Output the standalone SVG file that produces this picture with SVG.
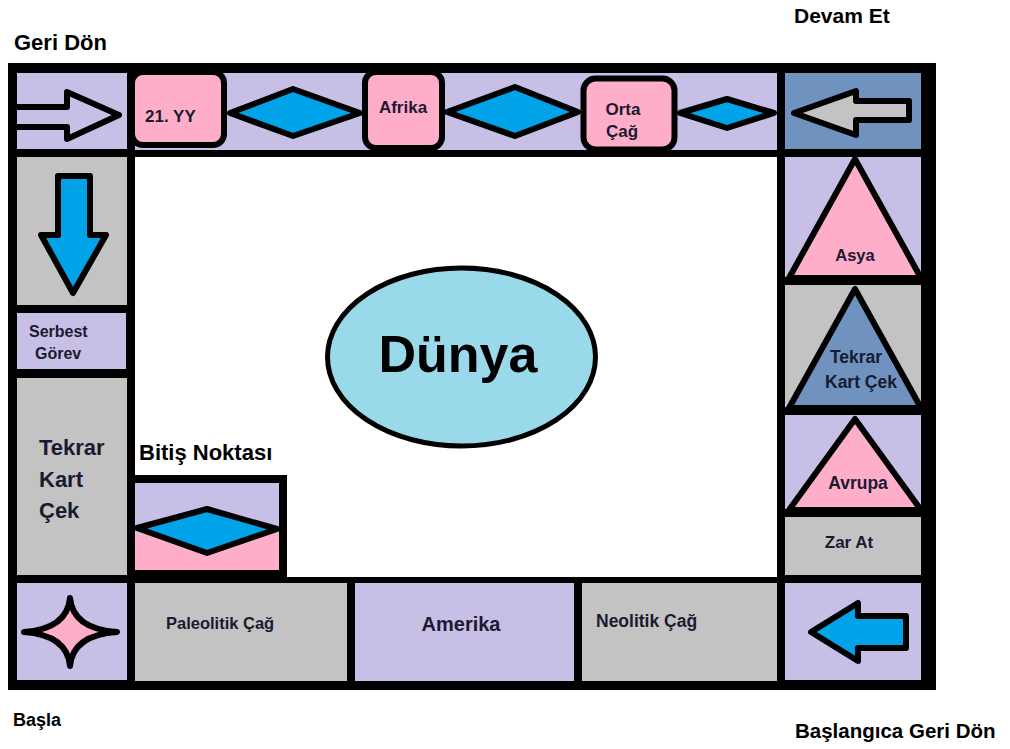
<svg xmlns="http://www.w3.org/2000/svg" width="1010" height="749" viewBox="0 0 1010 749">
<style>
.lav{fill:#c8bfe7}
.gry{fill:#c3c3c3}
.pnk{fill:#ffaec9}
.bg{fill:#7092be}
.shape{stroke:#000;stroke-width:6;stroke-linejoin:round}
.t{font-family:"Liberation Sans",Arial,sans-serif;font-weight:bold;fill:#1a1a30}
.o{font-family:"Liberation Sans",Arial,sans-serif;font-weight:bold;fill:#000}
.c{text-anchor:middle}
</style>
<rect width="1010" height="749" fill="#fff"/>
<g id="board">
<rect x="8" y="63" width="928" height="627" fill="#000"/>
<rect x="135" y="157" width="642" height="420" fill="#fff"/>
</g>
<g id="top-left-cell">
<rect class="lav" x="17" y="73" width="110" height="76"/>
<path d="M17,107 H67 V92 L119,115 L67,139 V127 H17" fill="none" stroke="#000" stroke-width="6" stroke-linejoin="round"/>
</g>
<g id="top-strip">
<rect class="lav" x="135" y="73" width="642" height="77"/>
</g>
<g id="node-21yy">
<rect class="pnk shape" x="132" y="72" width="92" height="73" rx="11"/>
<text class="t" x="145" y="122" font-size="17">21. YY</text>
</g>
<g id="diamond-1"><polygon class="shape" fill="#00a2e8" points="230,113 293,89 360,113 293,136"/></g>
<g id="node-afrika">
<rect class="pnk shape" x="365" y="72" width="77" height="76" rx="11"/>
<text class="t c" x="403" y="113" font-size="17">Afrika</text>
</g>
<g id="diamond-2"><polygon class="shape" fill="#00a2e8" points="447,112 515,87 578,112 515,136"/></g>
<g id="node-orta-cag">
<rect class="pnk shape" x="583.5" y="78.5" width="91" height="71" rx="12" stroke-width="7"/>
<text class="t c" x="623" y="115" font-size="17">Orta</text>
<text class="t c" x="622" y="137" font-size="17">Çağ</text>
</g>
<g id="diamond-3"><polygon class="shape" fill="#00a2e8" points="680,113 727,99 774,113 727,128"/></g>
<g id="top-right-cell">
<rect class="bg" x="785" y="73" width="136" height="76"/>
<polygon class="gry shape" points="794,113 856,91 856,101 909,101 909,120 856,120 856,135"/>
</g>
<g id="left-arrow-cell">
<rect class="gry" x="17" y="157" width="110" height="148"/>
<polygon class="shape" fill="#00a2e8" points="58,176 90,176 90,235 106,235 73,293 41,235 58,235"/>
</g>
<g id="node-serbest-gorev">
<rect class="lav" x="17" y="313" width="109" height="56"/>
<text class="t" x="29" y="337" font-size="16">Serbest</text>
<text class="t" x="35" y="359" font-size="16">Görev</text>
</g>
<g id="node-tekrar-left">
<rect class="gry" x="17" y="378" width="110" height="197"/>
<text class="t" x="39" y="455" font-size="22">Tekrar</text>
<text class="t" x="39" y="487" font-size="22">Kart</text>
<text class="t" x="39" y="518" font-size="22">Çek</text>
</g>
<g id="node-basla-cell">
<rect class="lav" x="17" y="583" width="110" height="97"/>
<path class="pnk shape" d="M70,598 Q73,629 117,632 Q73,635 70,666 Q67,635 24,632 Q67,629 70,598 Z"/>
</g>
<g id="node-paleolitik">
<rect class="gry" x="135" y="583" width="212" height="98"/>
<text class="t" x="166" y="629" font-size="16.5">Paleolitik Çağ</text>
</g>
<g id="node-amerika">
<rect class="lav" x="355" y="583" width="219" height="98"/>
<text class="t c" x="461" y="631" font-size="20">Amerika</text>
</g>
<g id="node-neolitik">
<rect class="gry" x="582" y="583" width="195" height="98"/>
<text class="t" x="596" y="627" font-size="17.5">Neolitik Çağ</text>
</g>
<g id="node-asya">
<rect class="lav" x="785" y="157" width="136" height="120"/>
<polygon class="pnk shape" points="855,159 789,278 921,278"/>
<text class="t c" x="855" y="261" font-size="16.5">Asya</text>
</g>
<g id="node-tekrar-right">
<rect class="gry" x="785" y="285" width="136" height="122"/>
<polygon class="bg shape" points="855,289 789,408 921,408"/>
<text class="t c" x="856" y="363" font-size="17.5">Tekrar</text>
<text class="t c" x="861" y="388" font-size="17.5">Kart Çek</text>
</g>
<g id="node-avrupa">
<rect class="lav" x="785" y="415" width="136" height="94"/>
<polygon class="pnk shape" points="855,419 789,510 921,510"/>
<text class="t c" x="858" y="489" font-size="17.5">Avrupa</text>
</g>
<g id="node-zar-at">
<rect class="gry" x="785" y="517" width="136" height="58"/>
<text class="t c" x="849" y="548" font-size="17">Zar At</text>
</g>
<g id="bottom-right-cell">
<rect class="lav" x="785" y="583" width="136" height="97"/>
<polygon class="shape" fill="#00a2e8" points="811,632 858,603 858,616 906,616 906,648 858,648 858,661"/>
</g>
<g id="node-bitis">
<rect x="127" y="475" width="160" height="102" fill="#000"/>
<rect class="lav" x="135" y="483" width="144" height="87"/>
<rect class="pnk" x="135" y="534" width="144" height="36"/>
<polygon class="shape" fill="#00a2e8" points="137,528 207,509 277,529 207,553"/>
<text class="o" x="139" y="460" font-size="22">Bitiş Noktası</text>
</g>
<g id="node-dunya">
<ellipse cx="461.5" cy="357" rx="134" ry="89" fill="#99d9ea" stroke="#000" stroke-width="5"/>
<text class="o c" x="458" y="372" font-size="52">Dünya</text>
</g>
<g id="labels">
<text class="o" x="14" y="50" font-size="22">Geri Dön</text>
<text class="o" x="794" y="23" font-size="21">Devam Et</text>
<text class="o" x="13" y="726" font-size="18">Başla</text>
<text class="o" x="795" y="738" font-size="20.5">Başlangıca Geri Dön</text>
</g>
<g id="connectors"></g>
</svg>
